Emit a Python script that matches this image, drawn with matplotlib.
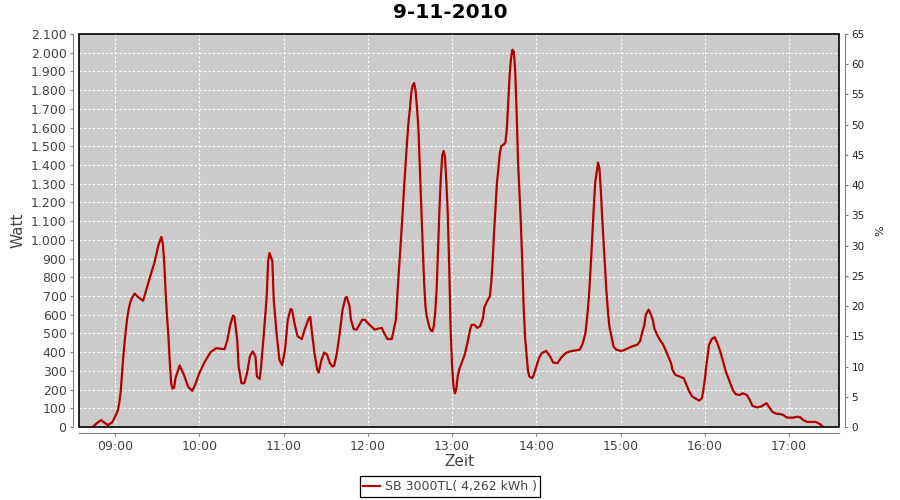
import matplotlib
matplotlib.use("Agg")
import matplotlib.pyplot as plt
from matplotlib.patches import Rectangle
from matplotlib.ticker import FuncFormatter, MultipleLocator

# readings (time of day, Watt)
times = ["08:44", "08:47", "08:50", "08:52", "08:55", "08:58", "09:00", "09:02", "09:03", "09:04",
         "09:05", "09:06", "09:07", "09:08", "09:09", "09:10", "09:11", "09:12", "09:14", "09:17",
         "09:20", "09:23", "09:25", "09:28", "09:31", "09:33", "09:34", "09:35", "09:36", "09:37",
         "09:38", "09:39", "09:40", "09:41", "09:42", "09:43", "09:46", "09:49", "09:52", "09:55",
         "09:57", "10:00", "10:04", "10:08", "10:12", "10:15", "10:18", "10:20", "10:22", "10:24",
         "10:25", "10:27", "10:28", "10:30", "10:32", "10:34", "10:36", "10:38", "10:40", "10:41",
         "10:43", "10:44", "10:46", "10:48", "10:49", "10:50", "10:52", "10:53", "10:55", "10:57",
         "10:59", "11:01", "11:03", "11:05", "11:06", "11:08", "11:10", "11:13", "11:15", "11:18",
         "11:19", "11:20", "11:22", "11:24", "11:25", "11:27", "11:29", "11:31", "11:33", "11:35",
         "11:36", "11:38", "11:40", "11:42", "11:44", "11:45", "11:47", "11:48", "11:50", "11:52",
         "11:54", "11:56", "11:58", "12:00", "12:03", "12:05", "12:08", "12:10", "12:11", "12:14",
         "12:17", "12:18", "12:20", "12:21", "12:22", "12:23", "12:24", "12:25", "12:26", "12:27",
         "12:28", "12:29", "12:30", "12:31", "12:32", "12:33", "12:34", "12:35", "12:36", "12:37",
         "12:38", "12:39", "12:40", "12:41", "12:42", "12:43", "12:44", "12:45", "12:46", "12:47",
         "12:48", "12:49", "12:50", "12:51", "12:52", "12:53", "12:54", "12:55", "12:56", "12:57",
         "12:58", "12:59", "13:00", "13:01", "13:02", "13:03", "13:04", "13:05", "13:07", "13:09",
         "13:11", "13:13", "13:14", "13:16", "13:18", "13:20", "13:22", "13:23", "13:25", "13:27",
         "13:28", "13:29", "13:30", "13:31", "13:32", "13:33", "13:34", "13:35", "13:37", "13:38",
         "13:39", "13:40", "13:41", "13:42", "13:43", "13:44", "13:45", "13:46", "13:47", "13:48",
         "13:49", "13:50", "13:51", "13:52", "13:53", "13:54", "13:55", "13:57", "13:58", "14:00",
         "14:02", "14:04", "14:07", "14:10", "14:12", "14:15", "14:18", "14:21", "14:24", "14:28",
         "14:31", "14:33", "14:35", "14:36", "14:37", "14:38", "14:39", "14:40", "14:41", "14:42",
         "14:43", "14:44", "14:45", "14:46", "14:47", "14:48", "14:49", "14:50", "14:51", "14:52",
         "14:54", "14:55", "14:57", "15:00", "15:02", "15:05", "15:08", "15:12", "15:14", "15:15",
         "15:17", "15:18", "15:20", "15:21", "15:23", "15:24", "15:26", "15:28", "15:30", "15:32",
         "15:34", "15:36", "15:37", "15:39", "15:42", "15:45", "15:47", "15:49", "15:51", "15:54",
         "15:56", "15:58", "15:59", "16:00", "16:01", "16:02", "16:03", "16:05", "16:07", "16:09",
         "16:11", "16:13", "16:15", "16:18", "16:20", "16:22", "16:25", "16:27", "16:30", "16:32",
         "16:34", "16:37", "16:40", "16:42", "16:44", "16:46", "16:48", "16:51", "16:53", "16:56",
         "16:58", "17:00", "17:03", "17:06", "17:08", "17:10", "17:13", "17:16", "17:19", "17:22",
         "17:24"]
watt = [0, 20, 37, 25, 10, 25, 55, 90, 130, 190,
        290, 390, 470, 540, 600, 640, 670, 690, 713, 690,
        675, 752, 805, 877, 975, 1016, 980, 880, 720, 591,
        484, 341, 230, 205, 210, 260, 329, 279, 216, 193,
        225, 288, 350, 400, 421, 418, 416, 466, 546, 595,
        590, 466, 323, 234, 234, 288, 377, 404, 377, 270,
        257, 323, 502, 698, 886, 930, 886, 680, 502, 360,
        330, 410, 573, 630, 627, 546, 484, 470, 520, 582,
        588, 520, 395, 305, 291, 359, 398, 386, 341, 323,
        327, 395, 502, 627, 689, 695, 645, 573, 523, 520,
        546, 573, 573, 555, 534, 520, 527, 529, 511, 470,
        470, 502, 573, 698, 820, 930, 1050, 1170, 1300, 1415,
        1530, 1630, 1700, 1790, 1825, 1838, 1800, 1710, 1600, 1400,
        1200, 1000, 790, 650, 590, 560, 530, 515, 511, 540,
        610, 730, 940, 1160, 1330, 1450, 1475, 1440, 1300, 1130,
        850, 520, 330, 220, 180, 200, 270, 305, 345, 386,
        450, 525, 546, 546, 530, 538, 580, 640, 672, 700,
        780, 900, 1050, 1180, 1306, 1380, 1460, 1500, 1511, 1520,
        1590, 1730, 1880, 1970, 2016, 2005, 1900, 1680, 1420, 1250,
        1090, 880, 640, 480, 390, 305, 270, 261, 275, 323,
        370, 395, 407, 375, 345, 341, 373, 395, 404, 409,
        413, 445, 500, 570, 650, 760, 890, 1040, 1180, 1310,
        1360, 1413, 1380, 1260, 1110, 980, 850, 720, 620, 540,
        466, 430, 413, 407, 409, 420, 430, 440, 460, 493,
        546, 600, 627, 612, 573, 529, 493, 466, 445, 413,
        377, 341, 305, 279, 270, 261, 225, 189, 163, 150,
        141, 154, 198, 250, 320, 380, 439, 470, 480, 448,
        404, 350, 296, 238, 198, 175, 171, 180, 171, 145,
        113, 105, 109, 118, 127, 105, 82, 70, 70, 64,
        52, 50, 50, 55, 52, 38, 27, 27, 27, 16,
        2]

title = "9-11-2010"
series_label = "SB 3000TL( 4,262 kWh )"
hour_ticks = [9, 10, 11, 12, 13, 14, 15, 16, 17]

hours = [int(t[:2]) + int(t[3:]) / 60.0 for t in times]

fig = plt.figure(figsize=(9, 5), dpi=100)
ax = fig.add_axes([79 / 900, 73 / 500, 760 / 900, 393 / 500])
ax2 = ax.twinx()

gray = "#808080"
txt = "#444444"

ax.set_facecolor("#cbcbcb")
ax.plot(hours, watt, color="#b30000", linewidth=1.6, label=series_label)

ax.set_xlim(8 + 34.3 / 60, 17 + 35.6 / 60)
ax.set_ylim(0, 2100)
ax2.set_ylim(0, 65)

ax.set_xticks(hour_ticks)
ax.xaxis.set_major_formatter(FuncFormatter(lambda v, p: "%02d:00" % int(round(v))))
ax.yaxis.set_major_locator(MultipleLocator(100))
ax.yaxis.set_major_formatter(FuncFormatter(lambda v, p: ("{:,}".format(int(v))).replace(",", ".")))
ax2.yaxis.set_major_locator(MultipleLocator(5))

ax.grid(True, color="white", linestyle=(0, (2, 2)), linewidth=0.8)

# gray axes offset from the plot area
for a in (ax, ax2):
    for s in a.spines.values():
        s.set_visible(False)
for name in ("left", "bottom"):
    ax.spines[name].set_visible(True)
    ax.spines[name].set_position(("outward", 4))
    ax.spines[name].set_color(gray)
ax2.spines["right"].set_visible(True)
ax2.spines["right"].set_position(("outward", 4))
ax2.spines["right"].set_color(gray)

ax.tick_params(axis="both", length=2, width=0.8, color=gray, labelcolor=txt,
               labelsize=9, pad=3)
ax2.tick_params(axis="y", length=2, width=0.8, color=gray, labelcolor="#222222",
                labelsize=7.5, pad=3)

# black outline of the plot area
ax.add_patch(Rectangle((0, 0), 1, 1, transform=ax.transAxes, fill=False,
                       edgecolor="black", linewidth=1.2, clip_on=False, zorder=5))

ax.set_ylabel("Watt", fontsize=11, color=txt, labelpad=4)
ax.set_xlabel("Zeit", fontsize=11, color=txt, labelpad=1)
ax2.set_ylabel("%", fontsize=8, color="#222222", labelpad=8)

fig.text(0.5, 0.974, title, ha="center", va="center", fontsize=14.5, fontweight="bold")

fig.legend(loc="center", bbox_to_anchor=(0.5, 0.027), fontsize=9, frameon=True,
           fancybox=False, edgecolor="black", framealpha=1, handlelength=1.3,
           handletextpad=0.4, borderpad=0.3, borderaxespad=0)
fig.legends[0].get_frame().set_linewidth(0.9)
for t in fig.legends[0].get_texts():
    t.set_color(txt)

fig.savefig("out.png", dpi=100)
